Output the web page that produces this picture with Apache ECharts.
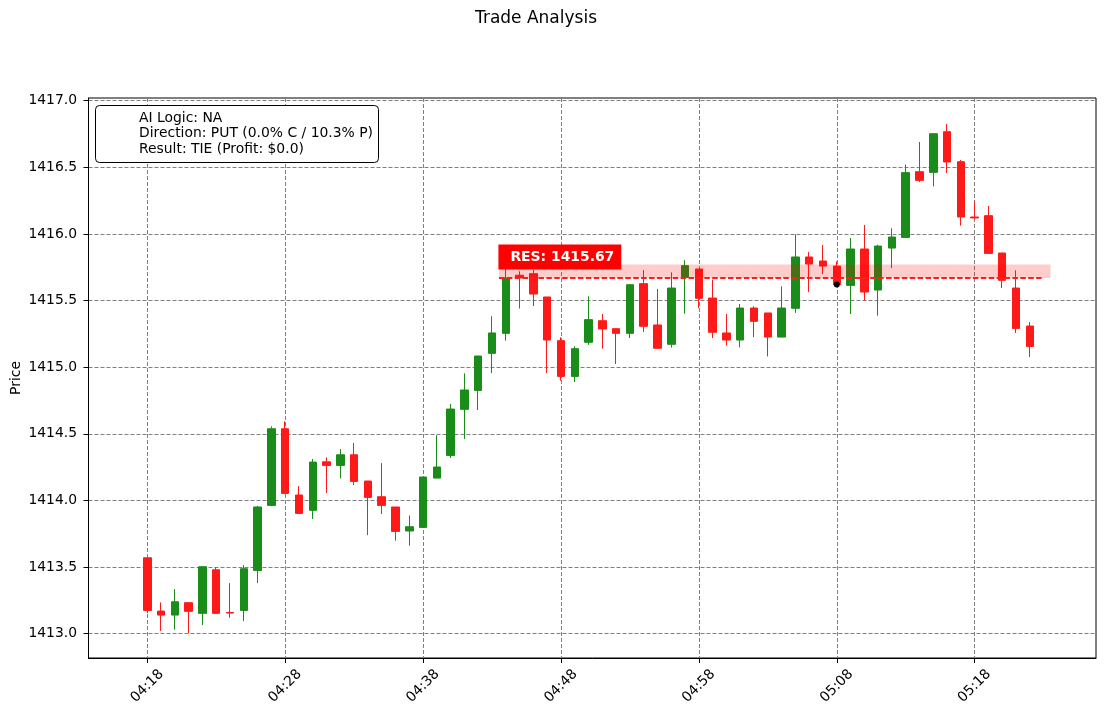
<!DOCTYPE html>
<html>
<head>
<meta charset="utf-8">
<title>Trade Analysis</title>
<script src="https://cdn.jsdelivr.net/npm/echarts@6/dist/echarts.min.js"></script>
<style>
  html, body { margin: 0; padding: 0; background: #fff; }
  #chart { width: 1105px; height: 716px; }
</style>
</head>
<body>
<div id="chart"></div>
<script>
// one-minute candles, 04:18 -> 05:22
const times = [
  '04:18','04:19','04:20','04:21','04:22','04:23','04:24','04:25','04:26','04:27',
  '04:28','04:29','04:30','04:31','04:32','04:33','04:34','04:35','04:36','04:37',
  '04:38','04:39','04:40','04:41','04:42','04:43','04:44','04:45','04:46','04:47',
  '04:48','04:49','04:50','04:51','04:52','04:53','04:54','04:55','04:56','04:57',
  '04:58','04:59','05:00','05:01','05:02','05:03','05:04','05:05','05:06','05:07',
  '05:08','05:09','05:10','05:11','05:12','05:13','05:14','05:15','05:16','05:17',
  '05:18','05:19','05:20','05:21','05:22'
];
const opens = [
  1413.570,1413.170,1413.140,1413.233,1413.153,1413.480,1413.160,1413.175,1413.475,1413.963,
  1414.538,1414.041,1413.926,1414.290,1414.263,1414.343,1414.146,1414.028,1413.951,1413.771,
  1413.798,1414.168,1414.338,1414.684,1414.826,1415.104,1415.254,1415.690,1415.702,1415.527,
  1415.199,1414.931,1415.187,1415.349,1415.289,1415.254,1415.627,1415.317,1415.172,1415.674,
  1415.737,1415.519,1415.257,1415.204,1415.444,1415.407,1415.226,1415.442,1415.827,1415.797,
  1415.759,1415.614,1415.887,1415.579,1415.894,1415.974,1416.467,1416.462,1416.767,1416.542,
  1416.127,1416.137,1415.857,1415.594,1415.309
];
const closes = [
  1413.175,1413.140,1413.240,1413.168,1413.503,1413.153,1413.155,1413.488,1413.951,1414.538,
  1414.053,1413.903,1414.288,1414.263,1414.343,1414.143,1414.023,1413.963,1413.768,1413.803,
  1414.176,1414.251,1414.686,1414.829,1415.084,1415.257,1415.669,1415.670,1415.549,1415.204,
  1414.931,1415.139,1415.357,1415.287,1415.254,1415.619,1415.307,1415.142,1415.594,1415.762,
  1415.517,1415.262,1415.204,1415.444,1415.344,1415.226,1415.444,1415.827,1415.774,1415.759,
  1415.619,1415.887,1415.564,1415.909,1415.977,1416.460,1416.402,1416.752,1416.540,1416.127,
  1416.120,1415.854,1415.652,1415.291,1415.156
];
const lows = [
  1413.155,1413.020,1413.030,1413.005,1413.065,1413.153,1413.120,1413.095,1413.380,1413.963,
  1414.053,1413.903,1413.861,1414.056,1414.166,1414.116,1413.740,1413.898,1413.698,1413.661,
  1413.798,1414.168,1414.318,1414.461,1414.679,1414.956,1415.199,1415.440,1415.459,1414.956,
  1414.899,1414.889,1415.167,1415.139,1415.024,1415.219,1415.264,1415.142,1415.147,1415.402,
  1415.444,1415.219,1415.162,1415.149,1415.226,1415.081,1415.226,1415.407,1415.564,1415.699,
  1415.619,1415.399,1415.502,1415.387,1415.744,1415.974,1416.390,1416.357,1416.457,1416.062,
  1416.115,1415.854,1415.594,1415.257,1415.076
];
const highs = [
  1413.570,1413.235,1413.335,1413.233,1413.503,1413.500,1413.380,1413.515,1413.960,1414.556,
  1414.594,1414.108,1414.311,1414.323,1414.386,1414.431,1414.146,1414.281,1413.951,1413.888,
  1414.176,1414.489,1414.724,1414.954,1415.084,1415.382,1415.740,1415.720,1415.730,1415.527,
  1415.224,1415.157,1415.532,1415.399,1415.289,1415.619,1415.729,1415.587,1415.712,1415.802,
  1415.737,1415.657,1415.399,1415.474,1415.457,1415.407,1415.607,1415.997,1415.864,1415.917,
  1415.794,1415.969,1416.067,1415.919,1416.042,1416.520,1416.690,1416.752,1416.825,1416.555,
  1416.245,1416.210,1415.857,1415.727,1415.339
];

const xTickValues = [0, 10, 20, 30, 40, 50, 60];
const yTickValues = [1413.0, 1413.5, 1414.0, 1414.5, 1415.0, 1415.5, 1416.0, 1416.5, 1417.0];

// resistance level and its shaded zone
const resPrice = 1415.67;
const resBand = [1415.67, 1415.77];
const resLineSpan = [25.5, 65.0];
const resBandSpan = [25.5, 65.5];

// entry marker
const entryIndex = 50;
const entryPrice = 1415.62;

const infoLines = [
  'AI Logic: NA',
  'Direction: PUT (0.0% C / 10.3% P)',
  'Result: TIE (Profit: $0.0)'
];

const FONT = '"DejaVu Sans", "Liberation Sans", sans-serif';
const UP = '#198c19';
const DOWN = '#ff1a1a';

const candles = times.map((t, i) => [i, opens[i], closes[i], lows[i], highs[i]]);

const chart = echarts.init(document.getElementById('chart'), null, { renderer: 'canvas' });

chart.setOption({
  animation: false,
  backgroundColor: '#fff',
  textStyle: { fontFamily: FONT },
  grid: {
    left: 88.5, right: 9, top: 98, bottom: 58,
    outerBoundsMode: 'none', containLabel: false,
    show: true, borderColor: '#000', borderWidth: 1, backgroundColor: 'transparent'
  },
  xAxis: {
    type: 'value',
    min: -4.264, max: 68.8,
    axisLine: { show: true, onZero: false, lineStyle: { color: '#000', width: 1 } },
    axisTick: { show: true, length: 5, lineStyle: { color: '#000' }, customValues: xTickValues },
    axisLabel: {
      customValues: xTickValues,
      formatter: v => times[Math.round(v)] || '',
      rotate: 45, align: 'center', verticalAlign: 'middle', margin: 28,
      color: '#000', fontSize: 13.9, fontFamily: FONT
    },
    splitLine: { show: true, lineStyle: { color: '#808080', width: 1, type: [4, 2] } }
  },
  yAxis: {
    type: 'value',
    min: 1412.818, max: 1417.02,
    name: 'Price', nameLocation: 'middle', nameGap: 65, nameMoveOverlap: false,
    nameTextStyle: { color: '#000', fontSize: 13.9, fontFamily: FONT },
    axisLine: { show: true, onZero: false, lineStyle: { color: '#000', width: 1 } },
    axisTick: { show: true, length: 5, lineStyle: { color: '#000' }, customValues: yTickValues },
    axisLabel: {
      customValues: yTickValues,
      formatter: v => v.toFixed(1),
      margin: 11.5, color: '#000', fontSize: 13.9, fontFamily: FONT
    },
    splitLine: { show: true, lineStyle: { color: '#808080', width: 1, type: [4, 2] } }
  },
  series: [
    {
      type: 'candlestick',
      name: 'K',
      data: candles,
      encode: { x: 0, y: [1, 2, 3, 4] },
      barWidth: 8,
      z: 2,
      itemStyle: {
        color: UP, color0: DOWN,
        borderColor: UP, borderColor0: DOWN,
        borderWidth: 1
      }
    },
    {
      // shaded resistance zone, drawn over the candles
      type: 'custom',
      z: 3,
      silent: true,
      data: [[resBandSpan[0], resBandSpan[1], resBand[0], resBand[1]]],
      encode: { x: [0, 1], y: [2, 3] },
      renderItem: (params, api) => {
        const p0 = api.coord([api.value(0), api.value(3)]);
        const p1 = api.coord([api.value(1), api.value(2)]);
        return {
          type: 'rect',
          shape: { x: p0[0], y: p0[1], width: p1[0] - p0[0], height: p1[1] - p0[1] },
          style: { fill: 'rgba(255,0,0,0.2)' }
        };
      }
    },
    {
      type: 'line',
      name: 'RES',
      z: 4,
      silent: true,
      symbol: 'none',
      data: [[resLineSpan[0], resPrice], [resLineSpan[1], resPrice]],
      lineStyle: { color: '#ff1e1e', width: 2, type: [5.5, 2.4] }
    },
    {
      // RES label box
      type: 'scatter',
      z: 6,
      silent: true,
      symbolSize: 1,
      itemStyle: { color: 'rgba(0,0,0,0)', opacity: 1 },
      data: [[resLineSpan[0], resPrice]],
      label: {
        show: true,
        formatter: 'RES: ' + resPrice.toFixed(2),
        position: [0, -8],
        align: 'left', verticalAlign: 'bottom',
        color: '#fff', fontWeight: 'bold', fontSize: 13.9, fontFamily: FONT,
        backgroundColor: '#ff0000',
        padding: [6, 7, 5, 12]
      }
    },
    {
      type: 'scatter',
      z: 7,
      silent: true,
      symbol: 'circle',
      symbolSize: 6,
      itemStyle: { color: '#000', opacity: 1 },
      data: [[entryIndex, entryPrice]]
    }
  ],
  graphic: [
    {
      type: 'text', x: 536, y: 19, z: 100,
      style: { text: 'Trade Analysis', fill: '#000', font: '17px ' + FONT, textAlign: 'center', textVerticalAlign: 'middle' }
    },
    {
      type: 'rect', z: 100,
      shape: { x: 95.5, y: 105.5, width: 283, height: 57, r: 4 },
      style: { fill: '#fff', stroke: '#000', lineWidth: 1 }
    },
    ...infoLines.map((line, k) => ({
      type: 'text', x: 139, y: 118.5 + k * 15.3, z: 101,
      style: { text: line, fill: '#000', font: '13.9px ' + FONT, textAlign: 'left', textVerticalAlign: 'middle' }
    }))
  ]
});
</script>
</body>
</html>
